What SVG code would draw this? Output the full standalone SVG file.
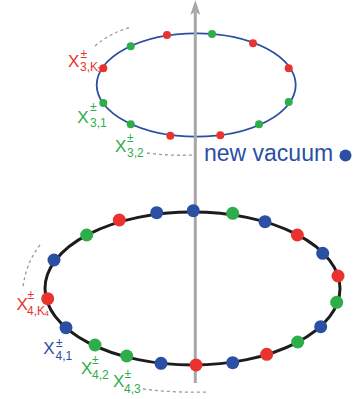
<svg xmlns="http://www.w3.org/2000/svg" width="359" height="399" viewBox="0 0 359 399">
<style>
.lbl{font-family:"Liberation Sans",Arial,sans-serif}
.X{font-size:17px}
.pm{font-size:12px}
.sb{font-size:12px}
.tn{font-size:8px}
.r{fill:#e8332f}
.g{fill:#2eae4a}
.b{fill:#2a4fa3}
.dash{fill:none;stroke:#9a9a9a;stroke-width:1.3;stroke-dasharray:3 3}
</style>
<defs>
<marker id="ah" viewBox="0 0 15 10" refX="3" refY="5" markerWidth="15" markerHeight="10" markerUnits="userSpaceOnUse" orient="auto">
<path d="M0,0 L15,5 L0,10 L3.5,5 z" fill="#a8a8a8"/>
</marker>
</defs>
<g id="ring3">
<ellipse cx="196.2" cy="85" rx="99.5" ry="51.7" fill="none" stroke="#2a4fa3" stroke-width="1.8"/>
</g>
<g id="ring4">
<ellipse cx="192.5" cy="288.5" rx="147.5" ry="76.5" fill="none" stroke="#1c1c1c" stroke-width="3"/>
</g>
<g id="connectors">
<line x1="195.3" y1="383" x2="195.3" y2="12" stroke="#a8a8a8" stroke-width="3" marker-end="url(#ah)"/>
<path class="dash" d="M95,46 Q110,33 131,27"/>
<path class="dash" d="M147,153 Q170,156 193,155"/>
<path class="dash" d="M40,245 Q26,263 23,287"/>
<path class="dash" d="M143,389 Q175,393 208,392"/>
</g>
<g id="dots3">
<circle class="r" cx="167" cy="35" r="4"/>
<circle class="g" cx="212" cy="34" r="4"/>
<circle class="r" cx="253" cy="43.3" r="4"/>
<circle class="r" cx="288.7" cy="68.3" r="4"/>
<circle class="g" cx="288.7" cy="102" r="4"/>
<circle class="g" cx="259" cy="124.3" r="4"/>
<circle class="r" cx="220.3" cy="135.3" r="4"/>
<circle class="r" cx="170.3" cy="135.7" r="4"/>
<circle class="g" cx="130.7" cy="124.3" r="4"/>
<circle class="g" cx="103.3" cy="103" r="4"/>
<circle class="r" cx="103.3" cy="68.3" r="4"/>
<circle class="g" cx="130.7" cy="46.3" r="4"/>
</g>
<g id="dots4">
<circle class="b" cx="156.7" cy="212.7" r="6.5"/>
<circle class="r" cx="119.3" cy="220" r="6.5"/>
<circle class="g" cx="86.7" cy="235" r="6.5"/>
<circle class="b" cx="54" cy="260" r="6.5"/>
<circle class="r" cx="47.7" cy="298.7" r="6.5"/>
<circle class="b" cx="66" cy="327.7" r="6.5"/>
<circle class="g" cx="95" cy="345" r="6.5"/>
<circle class="g" cx="126.7" cy="356" r="6.5"/>
<circle class="b" cx="161" cy="363.3" r="6.5"/>
<circle class="b" cx="193.3" cy="210.7" r="6.5"/>
<circle class="g" cx="232.7" cy="213.3" r="6.5"/>
<circle class="b" cx="265" cy="221.7" r="6.5"/>
<circle class="r" cx="297.3" cy="235" r="6.5"/>
<circle class="b" cx="322.7" cy="253.3" r="6.5"/>
<circle class="r" cx="338" cy="276" r="6.5"/>
<circle class="g" cx="336.7" cy="302.3" r="6.5"/>
<circle class="b" cx="320.7" cy="326.7" r="6.5"/>
<circle class="g" cx="297.7" cy="342" r="6.5"/>
<circle class="r" cx="266.7" cy="354.3" r="6.5"/>
<circle class="b" cx="232.7" cy="362.7" r="6.5"/>
<circle class="r" cx="196" cy="365" r="6.5"/>
</g>
<g id="label-x3K" class="lbl r">
<text class="X" x="68" y="67">X</text>
<text class="pm" x="80.5" y="58">±</text>
<text class="sb" x="80" y="70.5" font-size="11.5">3,K</text>
<text class="tn" x="97.3" y="71.5">3</text>
</g>
<g id="label-x31" class="lbl g">
<text class="X" x="77.3" y="123.3">X</text>
<text class="pm" x="90" y="111">±</text>
<text class="sb" x="90" y="126.5">3,1</text>
</g>
<g id="label-x32" class="lbl g">
<text class="X" x="115" y="151.7">X</text>
<text class="pm" x="127" y="141.5">±</text>
<text class="sb" x="127" y="156.5">3,2</text>
</g>
<g id="label-x4K" class="lbl r">
<text class="X" x="16.5" y="310">X</text>
<text class="pm" x="27.5" y="298.5">±</text>
<text class="sb" x="27" y="315">4,K</text>
<text class="tn" x="44.5" y="316">4</text>
</g>
<g id="label-x41" class="lbl b">
<text class="X" x="43.3" y="354">X</text>
<text class="pm" x="56" y="346.5">±</text>
<text class="sb" x="55.5" y="360">4,1</text>
</g>
<g id="label-x42" class="lbl g">
<text class="X" x="81" y="374">X</text>
<text class="pm" x="92" y="364">±</text>
<text class="sb" x="92" y="379">4,2</text>
</g>
<g id="label-x43" class="lbl g">
<text class="X" x="113" y="387">X</text>
<text class="pm" x="124.5" y="377.5">±</text>
<text class="sb" x="124" y="392.5">4,3</text>
</g>
<g id="legend">
<text class="lbl b" x="204" y="160.7" font-size="23">new vacuum</text>
<circle class="b" cx="345.5" cy="155.5" r="6"/>
</g>
</svg>
